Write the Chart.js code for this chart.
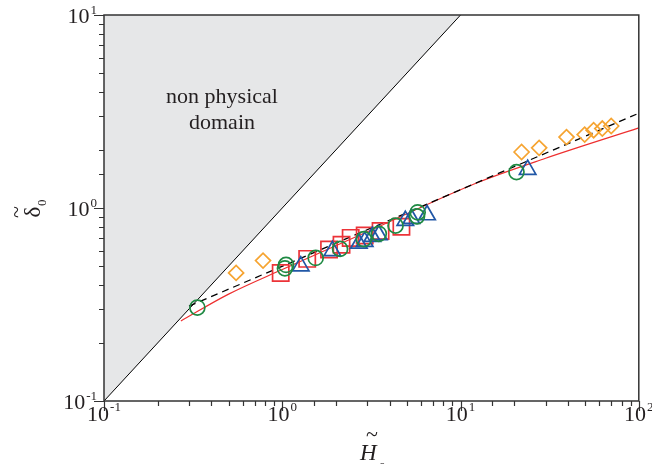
<!DOCTYPE html>
<html>
<head>
<meta charset="utf-8">
<script src="https://cdn.jsdelivr.net/npm/chart.js@4.4.1/dist/chart.umd.min.js"></script>
<style>
  html, body { margin: 0; padding: 0; background: #fff; }
</style>
</head>
<body>
<canvas id="graph" width="652" height="464"></canvas>
<script>
// measured points, H0 (x) vs delta0 (y)
var circH = [0.334, 1.035, 1.05, 1.54, 2.11, 2.87, 3.48, 4.32, 5.7, 5.75, 20.6];
var circD = [0.305, 0.487, 0.507, 0.551, 0.614, 0.69, 0.735, 0.81, 0.905, 0.95, 1.535];

var squareH = [0.98, 1.38, 1.83, 2.15, 2.42, 2.9, 3.56, 4.66];
var squareD = [0.46, 0.545, 0.61, 0.645, 0.70, 0.72, 0.76, 0.80];

var triH = [1.27, 1.91, 2.69, 2.9, 3.2, 3.48, 4.9, 5.3, 6.49, 23.8];
var triD = [0.50, 0.60, 0.655, 0.67, 0.71, 0.725, 0.86, 0.88, 0.92, 1.58];

var diamH = [0.551, 0.78, 22.0, 27.6, 39.3, 49.7, 55.8, 62.4, 70.0];
var diamD = [0.461, 0.534, 1.95, 2.05, 2.33, 2.40, 2.53, 2.58, 2.66];

// model curve (red) and power law (dashed)
var modelH = [0.27, 0.5, 1, 3, 12.6, 30, 100];
var modelD = [0.26, 0.358, 0.48, 0.753, 1.36, 1.81, 2.60];
var powerH = [0.30, 97];
var powerD = [0.31, 3.06];

// delta0 = H0 boundary
var limitH = [0.1, 10];
var limitD = [0.1, 10];

// axes
var xTicks = [0.1, 1, 10, 100];
var xTickText = ['10', '-1', '10', '0', '10', '1', '10', '2'];
var yTicks = [0.1, 1, 10];
var yTickText = ['10', '-1', '10', '0', '10', '1'];

function pts(xs, ys) {
    var out = [];
    for (let i = 0; i < xs.length; i++) out.push({x: xs[i], y: ys[i]});
    return out;
}

var serif = '"Liberation Serif", "Times New Roman", serif';

// box, ticks, labels and titles
var decor = {
    id: 'decor',
    afterDraw: function(chart) {
        var ctx = chart.ctx;
        var a = chart.chartArea;
        var sx = chart.scales.x, sy = chart.scales.y;
        ctx.save();
        ctx.strokeStyle = '#333';
        ctx.lineWidth = 1.5;
        ctx.strokeRect(a.left, a.top, a.right - a.left, a.bottom - a.top);

        ctx.lineWidth = 1.2;
        ctx.beginPath();
        sx.ticks.forEach(function(t) {
            var p = Math.round(sx.getPixelForValue(t.value)) + 0.5;
            var major = Math.abs(Math.log10(t.value) - Math.round(Math.log10(t.value))) < 1e-6;
            ctx.moveTo(p, a.bottom);
            ctx.lineTo(p, a.bottom + (major ? 10 : 5));
        });
        sy.ticks.forEach(function(t) {
            var p = Math.round(sy.getPixelForValue(t.value)) + 0.5;
            var major = Math.abs(Math.log10(t.value) - Math.round(Math.log10(t.value))) < 1e-6;
            ctx.moveTo(a.left, p);
            ctx.lineTo(a.left - (major ? 10 : 5), p);
        });
        ctx.stroke();

        ctx.fillStyle = '#231f20';
        ctx.textBaseline = 'alphabetic';
        // x tick labels
        xTicks.forEach(function(v, i) {
            var base = xTickText[2 * i], exp = xTickText[2 * i + 1];
            ctx.font = '22px ' + serif;
            var wb = ctx.measureText(base).width;
            ctx.font = '13px ' + serif;
            var we = ctx.measureText(exp).width;
            var x0 = sx.getPixelForValue(v) - (wb + we + 1) / 2;
            ctx.textAlign = 'left';
            ctx.font = '22px ' + serif;
            ctx.fillText(base, x0, 421);
            ctx.font = '13px ' + serif;
            ctx.fillText(exp, x0 + wb + 1, 411);
        });
        // y tick labels
        yTicks.forEach(function(v, i) {
            var base = yTickText[2 * i], exp = yTickText[2 * i + 1];
            var y = sy.getPixelForValue(v);
            ctx.textAlign = 'right';
            ctx.font = '13px ' + serif;
            var we = ctx.measureText(exp).width;
            ctx.fillText(exp, 97, y - 1);
            ctx.font = '22px ' + serif;
            ctx.fillText(base, 96 - we, y + 8);
        });

        // text in the shaded corner
        ctx.textAlign = 'center';
        ctx.font = '22px ' + serif;
        ctx.fillText('non physical', 222, 103);
        ctx.fillText('domain', 222, 129);

        // x title
        ctx.font = 'italic 23px ' + serif;
        ctx.textAlign = 'left';
        ctx.fillText('H', 360, 460);
        ctx.font = '22px ' + serif;
        ctx.fillText('~', 366, 441);
        ctx.font = '13px ' + serif;
        ctx.fillText('0', 379, 471);

        // y title
        ctx.translate(33, 212);
        ctx.rotate(-Math.PI / 2);
        ctx.textAlign = 'center';
        ctx.font = '23px ' + serif;
        ctx.fillText('δ', 0, 7);
        ctx.font = '22px ' + serif;
        ctx.fillText('~', 0, -10);
        ctx.font = '13px ' + serif;
        ctx.textAlign = 'left';
        ctx.fillText('0', 6, 13);
        ctx.restore();
    }
};

var graph = new Chart(document.getElementById('graph').getContext('2d'), {
    type: 'scatter',
    data: {
        datasets: [
            {
                data: pts(circH, circD),
                pointStyle: 'circle', pointRadius: 7.5,
                borderColor: '#1f8a43', backgroundColor: 'rgba(0,0,0,0)', borderWidth: 1.7
            },
            {
                data: pts(triH, triD),
                pointStyle: 'triangle', pointRadius: 9.5,
                borderColor: '#2157a6', backgroundColor: 'rgba(0,0,0,0)', borderWidth: 1.7
            },
            {
                data: pts(squareH, squareD),
                pointStyle: 'rect', pointRadius: 11.5,
                borderColor: '#ec3338', backgroundColor: 'rgba(0,0,0,0)', borderWidth: 1.7
            },
            {
                data: pts(diamH, diamD),
                pointStyle: 'rectRot', pointRadius: 7.5,
                borderColor: '#f6a431', backgroundColor: 'rgba(0,0,0,0)', borderWidth: 1.7
            },
            {
                data: pts(powerH, powerD), showLine: true, pointRadius: 0,
                borderColor: '#000', borderWidth: 1.3, borderDash: [7, 5]
            },
            {
                data: pts(modelH, modelD), showLine: true, pointRadius: 0,
                borderColor: '#ee2f2f', borderWidth: 1.2, cubicInterpolationMode: 'monotone'
            },
            {
                data: pts(limitH, limitD), showLine: true, pointRadius: 0,
                borderColor: '#000', borderWidth: 1, fill: 'end', backgroundColor: '#e6e7e8'
            }
        ]
    },
    options: {
        responsive: false,
        animation: false,
        events: [],
        layout: { padding: { top: 15, right: 11, left: 0, bottom: 0 } },
        plugins: { legend: { display: false }, tooltip: { enabled: false } },
        scales: {
            x: {
                type: 'logarithmic', min: 0.1, max: 100,
                grid: { display: false }, border: { display: false },
                ticks: { display: false },
                afterFit: function(s) { s.height = 63; }
            },
            y: {
                type: 'logarithmic', min: 0.1, max: 10,
                grid: { display: false }, border: { display: false },
                ticks: { display: false },
                afterFit: function(s) { s.width = 104; }
            }
        }
    },
    plugins: [decor]
});
</script>
</body>
</html>
